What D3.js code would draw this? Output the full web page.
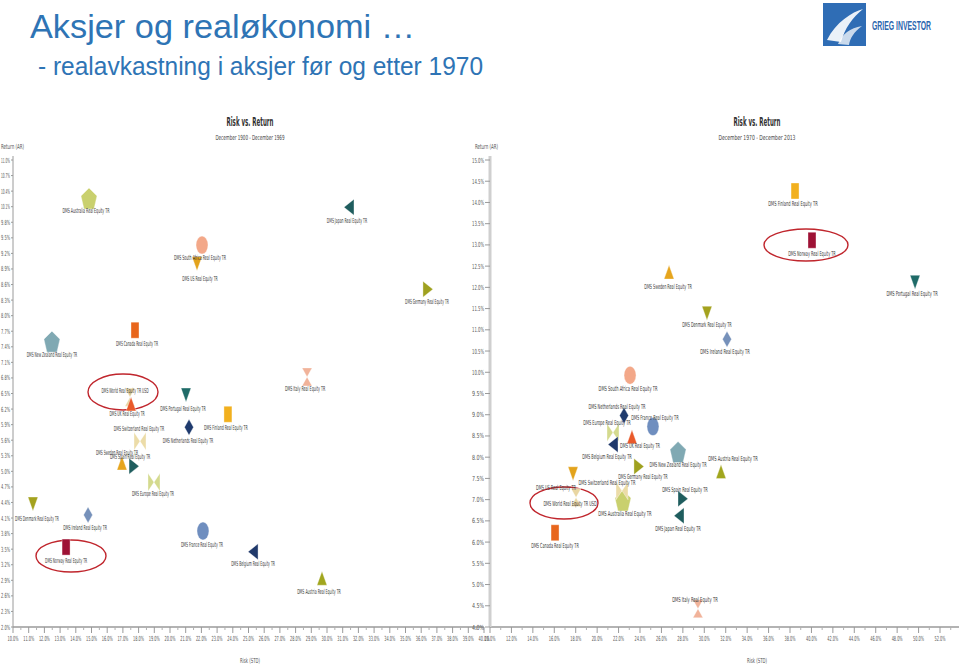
<!DOCTYPE html>
<html><head><meta charset="utf-8">
<script src="https://cdn.jsdelivr.net/npm/d3@7"></script>
<style>
html,body{margin:0;padding:0;background:#fff;}
svg{display:block;}
</style></head>
<body>
<svg id="c" width="959" height="669"></svg>
<script>
// ---------- DATA ----------
const countries = ["Australia","Japan","South Africa","US","Germany","New Zealand","Canada","Italy","World","UK","Portugal","Finland","Switzerland","Netherlands","Sweden","Spain","Europe","Denmark","Ireland","Norway","France","Belgium","Austria"];
const seriesNames = countries.map(c => c === "World" ? "DMS World Real Equity TR USD" : "DMS " + c + " Real Equity TR");
const markerShapes = ["pentagon","triLeft","ellipse","triDown","triRight","pentagon","rect","hourglass","hourglass","triUp","triDown","rect","bowtie","diamond","triUp","triRight","bowtie","triDown","diamond","rect","ellipse","triLeft","triUp"];
const markerColors = ["#C9D06E","#1F5D5E","#F3A889","#E3A31C","#9FA11F","#80A9B3","#E8661C","#F1B39A","#E9D6A2","#E9592A","#1F6B68","#F2B01E","#ECDCA8","#1F3B6E","#E6A51E","#1F5D5E","#D4DA8E","#A4A21E","#7691BA","#9E1235","#6F8EBF","#20396B","#A1A61E"];

// Period 1: December 1900 - December 1969 (risk %, return %)
const risk1900 = [14.84,31.40,22.04,21.72,36.43,12.48,17.77,28.73,17.45,17.52,21.02,23.69,18.09,21.21,16.94,17.71,18.98,11.27,14.78,13.38,22.10,25.29,29.68];
const ret1900  = [10.25,10.09,9.36,9.00,8.51,7.49,7.72,6.82,6.43,6.30,6.47,6.10,5.58,5.85,5.16,5.10,4.79,4.37,4.16,3.54,3.85,3.45,2.94];
// Period 2: December 1970 - December 2013
const risk1970 = [22.41,27.64,23.07,17.75,23.90,27.55,16.07,29.41,18.03,23.25,49.67,38.47,22.32,22.51,26.71,28.01,21.48,30.25,32.12,40.05,25.21,21.48,31.56];
const ret1970  = [6.97,6.62,9.93,7.61,7.78,8.11,6.22,4.43,7.05,8.48,12.12,14.27,7.21,8.98,12.36,7.02,8.58,11.39,10.78,13.11,8.72,8.30,7.66];

// tick labels
const xTicks1 = d3.range(10, 40.01, 1);
const yTicks1 = d3.range(2, 11.001, 0.3);
const xTicks2 = d3.range(10, 52.01, 2);
const yTicks2 = d3.range(4, 15.001, 0.5);

// label placement (label centre relative to marker)
const labelOff1 = [[-3,12],[-2,13],[-2,12],[3,15],[-1,12],[0,12],[2,13],[-2,12],[-5,-7],[-4,10],[-3,13],[-2,13],[-1,-13],[-1,13],[-5,-11],[-4,-10],[-1,11],[4,14],[-3,13],[0,13],[-1,13],[0,12],[-3,13]];
const labelOff2 = [[2,13],[-1,13],[-2,13],[-17,14],[4,10],[0,12],[0,13],[-3,-9],[-6,6],[8,9],[-3,11],[-2,13],[-15,-8],[-7,-9],[-1,14],[2,-9],[-6,-10],[0,11],[-2,12],[0,13],[2,-9],[-6,12],[12,-13]];

// ---------- DRAW ----------
const svg = d3.select("#c");
const FONT = "'DejaVu Sans Condensed','Liberation Sans Narrow','Liberation Sans',sans-serif";

function ctext(g, x, y, str, size, width, anchor, fill, weight){
  return g.append("text").attr("x", x).attr("y", y).text(str)
    .attr("font-family", FONT).attr("font-size", size)
    .attr("text-anchor", anchor || "middle")
    .attr("textLength", width).attr("lengthAdjust", "spacingAndGlyphs")
    .attr("fill", fill || "#333").attr("font-weight", weight || "normal");
}

function shapePath(t){
  switch(t){
    case "pentagon": return "M0,-11 L8,-3 L5,10 L-5,10 L-8,-3 Z";
    case "ellipse": return "M-6,0 A6,9 0 1,0 6,0 A6,9 0 1,0 -6,0 Z";
    case "rect": return "M-4,-8 L4,-8 L4,8 L-4,8 Z";
    case "triUp": return "M0,-7 L5,7 L-5,7 Z";
    case "triDown": return "M0,7 L5,-7 L-5,-7 Z";
    case "triLeft": return "M-5,0 L5,-8 L5,8 Z";
    case "triRight": return "M5,0 L-5,-8 L-5,8 Z";
    case "diamond": return "M0,-8 L4.5,0 L0,8 L-4.5,0 Z";
    case "hourglass": return "M-5,-9 L5,-9 L0,0 Z M0,0 L5,9 L-5,9 Z";
    case "bowtie": return "M-6,-9 L0,0 L-6,9 Z M6,-9 L0,0 L6,9 Z";
  }
  return "";
}

// Header
svg.append("text").attr("x", 30).attr("y", 38).text("Aksjer og realøkonomi …")
  .attr("font-family", "'Liberation Sans','Open Sans',sans-serif").attr("font-size", 34)
  .attr("fill", "#2E74B5").attr("textLength", 385).attr("lengthAdjust", "spacingAndGlyphs");
svg.append("text").attr("x", 38).attr("y", 75).text("- realavkastning i aksjer før og etter 1970")
  .attr("font-family", "'Liberation Sans','Open Sans',sans-serif").attr("font-size", 25)
  .attr("fill", "#2E74B5").attr("textLength", 445).attr("lengthAdjust", "spacingAndGlyphs");

// Logo
const logo = svg.append("g");
logo.append("rect").attr("x", 823).attr("y", 3).attr("width", 43).attr("height", 43).attr("fill", "#2F6DB5");
logo.append("path").attr("d", "M827,40 C836,22 852,12 863,9 C852,18 845,28 841,42 Z").attr("fill", "#ffffff").attr("opacity", 0.9);
logo.append("path").attr("d", "M838,44 C842,34 850,28 862,26 C854,32 850,38 849,45 Z").attr("fill", "#ffffff").attr("opacity", 0.75);
svg.append("text").attr("x", 872).attr("y", 30).text("GRIEG INVESTOR")
  .attr("font-family", "'Liberation Sans',sans-serif").attr("font-size", 12).attr("font-weight", "bold")
  .attr("fill", "#2B66AE").attr("textLength", 59).attr("lengthAdjust", "spacingAndGlyphs");

function panel(cfg){
  const g = svg.append("g");
  const x = d3.scaleLinear().domain(cfg.xDomain).range(cfg.xRange);
  const y = d3.scaleLinear().domain(cfg.yDomain).range(cfg.yRange);
  const y0 = cfg.yRange[0];

  // x axis
  g.append("line").attr("x1", cfg.xRange[0]).attr("x2", cfg.xRange[1]).attr("y1", y0).attr("y2", y0)
    .attr("stroke", "#9a9a9a").attr("stroke-width", 1.5);
  const step = cfg.xTicks[1] - cfg.xTicks[0];
  cfg.xTicks.forEach(v => {
    g.append("line").attr("x1", x(v)).attr("x2", x(v)).attr("y1", y0).attr("y2", y0 + 6).attr("stroke", "#9a9a9a");
    const m = v + step / 2;
    if (x(m) <= cfg.xRange[1]) g.append("line").attr("x1", x(m)).attr("x2", x(m)).attr("y1", y0).attr("y2", y0 + 3).attr("stroke", "#b0b0b0");
    ctext(g, x(v), y0 + 14, d3.format(".1f")(v) + "%", 7, 11, "middle", "#555");
  });
  for (let v = cfg.xTicks[cfg.xTicks.length - 1] + step; x(v) <= cfg.xRange[1]; v += step){
    g.append("line").attr("x1", x(v)).attr("x2", x(v)).attr("y1", y0).attr("y2", y0 + 6).attr("stroke", "#9a9a9a");
  }

  // y axis
  const ax = cfg.xRange[0];
  g.append("line").attr("x1", ax).attr("x2", ax).attr("y1", cfg.yRange[1] - 4).attr("y2", y0)
    .attr("stroke", cfg.yAxisColor).attr("stroke-width", cfg.yAxisWidth);
  cfg.yTicks.forEach(v => {
    g.append("line").attr("x1", ax - cfg.tickLen).attr("x2", ax).attr("y1", y(v)).attr("y2", y(v)).attr("stroke", "#9a9a9a");
    ctext(g, ax - cfg.tickLen - 1, y(v) + 2.5, d3.format(".1f")(v) + "%", 7, cfg.yLabW, "end", "#555");
  });
  ctext(g, cfg.retLabelX, cfg.yRange[1] - 11, "Return (AR)", 7, 23, "start", "#555");
  ctext(g, cfg.titleX, 663, "Risk (STD)", 7, 20, "middle", "#555");

  // titles
  ctext(g, cfg.titleX, 126, "Risk vs. Return", 12, 47, "middle", "#333", "bold");
  ctext(g, cfg.titleX, 140, cfg.subtitle, 7, cfg.subW, "middle", "#444");

  // highlight ellipses
  cfg.ellipses.forEach(e => {
    g.append("ellipse").attr("cx", e[0]).attr("cy", e[1]).attr("rx", e[2]).attr("ry", e[3])
      .attr("fill", "none").attr("stroke", "#C0262D").attr("stroke-width", 1.4);
  });

  // markers
  countries.forEach((c, i) => {
    const px = x(cfg.risk[i]), py = y(cfg.ret[i]);
    g.append("path").attr("d", shapePath(markerShapes[i]))
      .attr("transform", `translate(${px},${py})`)
      .attr("fill", markerColors[i]).attr("stroke", "rgba(255,255,255,0.6)").attr("stroke-width", 0.6);
  });
  // labels
  countries.forEach((c, i) => {
    const px = x(cfg.risk[i]), py = y(cfg.ret[i]);
    const o = cfg.labelOff[i];
    ctext(g, px + o[0], py + o[1] + 2.5, seriesNames[i], 7, seriesNames[i].length * cfg.charW, "middle", "#3a3a3a");
  });
}

panel({
  xDomain: [10, 40], xRange: [13, 484],
  yDomain: [2, 11], yRange: [627, 160],
  xTicks: xTicks1, yTicks: yTicks1,
  risk: risk1900, ret: ret1900, labelOff: labelOff1,
  yAxisColor: "#9a9a9a", yAxisWidth: 1, tickLen: 2, yLabW: 9,
  retLabelX: 1, titleX: 250, subtitle: "December 1900 - December 1969", subW: 69,
  charW: 1.68,
  ellipses: [[123, 392, 35, 18], [71, 556, 35, 16]]
});
panel({
  xDomain: [10, 54.5], xRange: [490, 966.8],
  yDomain: [4, 15], yRange: [627, 160],
  xTicks: xTicks2, yTicks: yTicks2,
  risk: risk1970, ret: ret1970, labelOff: labelOff2,
  yAxisColor: "#cfcfcf", yAxisWidth: 3, tickLen: 5, yLabW: 12,
  retLabelX: 475, titleX: 757, subtitle: "December 1970 - December 2013", subW: 77,
  charW: 1.9,
  ellipses: [[806, 245, 42, 16], [564, 503, 34, 16]]
});
</script>
</body></html>
